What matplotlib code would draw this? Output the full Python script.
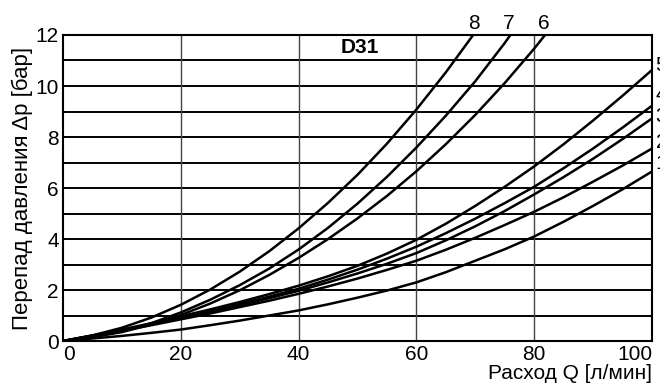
import numpy as np
import matplotlib
matplotlib.use('Agg')
import matplotlib.pyplot as plt

plt.rcParams['font.family'] = ['Liberation Sans', 'DejaVu Sans']

# flow Q [l/min] and pressure drop [bar], curves 1..8
q = [0, 5, 10, 15, 20, 25, 30, 35, 40, 45, 50, 55, 60, 65, 70, 75, 80, 85, 90, 95, 100]
dp1 = [0, 0.1, 0.2, 0.32, 0.45, 0.62, 0.8, 1.0, 1.2, 1.44, 1.7, 1.98, 2.3, 2.7,
       3.15, 3.6, 4.1, 4.68, 5.3, 5.95, 6.65]
dp2 = [0, 0.19, 0.4, 0.62, 0.85, 1.08, 1.33, 1.58, 1.85, 2.14, 2.45, 2.79, 3.15,
       3.58, 4.05, 4.55, 5.07, 5.64, 6.25, 6.88, 7.55]
dp3 = [0, 0.2, 0.42, 0.65, 0.9, 1.14, 1.4, 1.68, 1.97, 2.3, 2.65, 3.03, 3.45,
       3.95, 4.5, 5.1, 5.75, 6.43, 7.15, 7.92, 8.73]
dp4 = [0, 0.21, 0.43, 0.67, 0.93, 1.18, 1.45, 1.74, 2.05, 2.41, 2.8, 3.23, 3.7,
       4.23, 4.8, 5.41, 6.05, 6.78, 7.55, 8.37, 9.23]
dp5 = [0, 0.22, 0.45, 0.7, 0.97, 1.24, 1.53, 1.84, 2.17, 2.54, 2.95, 3.43, 3.97,
       4.6, 5.3, 6.05, 6.85, 7.72, 8.65, 9.62, 10.63]
# the steep ones leave the chart at the top
q6 = [0, 5, 10, 15, 20, 25, 30, 35, 40, 45, 50, 55, 60, 65, 70, 75, 80, 85]
dp6 = [0, 0.15, 0.35, 0.65, 1.02, 1.47, 1.99, 2.59, 3.26, 4.0, 4.81, 5.69, 6.66,
       7.72, 8.87, 10.12, 11.47, 12.92]
q7 = [0, 5, 10, 15, 20, 25, 30, 35, 40, 45, 50, 55, 60, 65, 70, 75, 80]
dp7 = [0, 0.16, 0.38, 0.7, 1.12, 1.62, 2.19, 2.84, 3.59, 4.44, 5.39, 6.44, 7.59,
       8.84, 10.19, 11.69, 13.34]
q8 = [0, 5, 10, 15, 20, 25, 30, 35, 40, 45, 50, 55, 60, 65, 70, 75]
dp8 = [0, 0.22, 0.52, 0.92, 1.42, 2.02, 2.72, 3.52, 4.42, 5.42, 6.52, 7.74, 9.08,
       10.54, 12.12, 13.82]

# where the curve numbers sit
top_labels = ['8', '7', '6']
top_label_x = [69.7, 75.7, 81.6]
right_labels = ['5', '4', '3', '2', '1']
right_label_y = [10.8, 9.65, 8.8, 7.8, 6.97]

fig = plt.figure(figsize=(6.6, 3.88), dpi=100)
ax = fig.add_axes([0.0955, 0.1211, 0.8925, 0.7887])

# grid: thick black horizontal lines, thin grey verticals
for yv in range(1, 12):
    ax.axhline(yv, color='black', lw=1.4, zorder=1)
for xv in [20, 40, 60, 80]:
    ax.axvline(xv, color='#444444', lw=1.0, zorder=1)

for xs, ys in [(q, dp1), (q, dp2), (q, dp3), (q, dp4), (q, dp5),
               (q6, dp6), (q7, dp7), (q8, dp8)]:
    ax.plot(xs, ys, color='black', lw=1.8, zorder=2)

for lab, xv in zip(top_labels, top_label_x):
    ax.text(xv, 12.45, lab, ha='center', va='center', fontsize=15, clip_on=False)
for lab, yv in zip(right_labels, right_label_y):
    ax.text(100.6, yv, lab, ha='left', va='center', fontsize=15, clip_on=False)

ax.text(50.3, 11.5, 'D31', ha='center', va='center', fontsize=15, fontweight='bold')

ax.set_xlim(0, 100)
ax.set_ylim(0, 12)
ax.set_xticks([0, 20, 40, 60, 80, 100])
ax.set_yticks([0, 2, 4, 6, 8, 10, 12])
ax.tick_params(length=0, labelsize=15, pad=3)
# first and last x labels are pushed inside the frame
xl = ax.get_xticklabels()
xl[0].set_horizontalalignment('left')
xl[-1].set_horizontalalignment('right')
for s in ax.spines.values():
    s.set_linewidth(1.5)

ax.set_ylabel('Перепад давления \u0394p [бар]', fontsize=16, labelpad=2)
ax.set_xlabel('Расход Q [л/мин]', fontsize=15, loc='right', labelpad=0)

fig.savefig('out.png', dpi=100)
